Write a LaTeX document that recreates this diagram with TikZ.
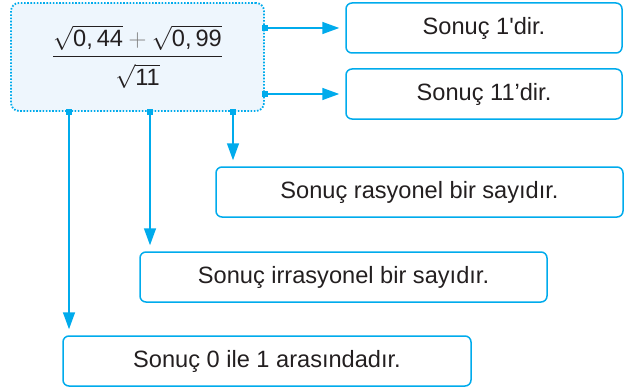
\documentclass[tikz,border=0pt]{standalone}
\usepackage{amsmath}
\usepackage{fontspec}
\setmainfont{Liberation Sans}
\usetikzlibrary{arrows.meta}
\definecolor{lineblue}{RGB}{0,171,236}
\definecolor{boxfill}{RGB}{238,246,253}
\definecolor{ink}{RGB}{35,31,32}
\tikzset{>={Triangle[length=8.5pt,width=6pt]}}
\tikzset{
	answer/.style={draw=lineblue,line width=0.75pt,rounded corners=3pt,text=ink,
		minimum height=25pt,inner sep=0pt,font=\fontsize{11.8}{14}\selectfont},
	tap/.style={fill=lineblue,inner sep=0pt,minimum size=2.6pt},
	link/.style={lineblue,line width=0.75pt,->,shorten >=3pt}
}

\begin{document}
\begin{tikzpicture}[x=0.5pt,y=-0.5pt]
		\useasboundingbox (0,0) rectangle (636,390);
		\node[draw=lineblue,fill=boxfill,line width=0.9pt,dash pattern=on 0.8pt off 0.8pt,
			rounded corners=4pt,minimum width=126.5pt,minimum height=54pt,text=ink,
			font=\fontsize{11.8}{14}\selectfont] (expr) at (137.5,57)
			{$\displaystyle\frac{\sqrt{\mbox{0,\,44}}\mathbin{\textcolor{gray}{+}}\sqrt{\mbox{0,\,99}}}{\sqrt{\mbox{11}}\rule{0pt}{13pt}}$};
		\node[answer,minimum width=138pt] (r1) at (484,28) {Sonuç 1\textquotesingle dir.};
		\node[answer,minimum width=138pt] (r2) at (484,94) {Sonuç 11’dir.};
		\node[answer,minimum width=203.5pt] (r3) at (419.5,192) {Sonuç rasyonel bir sayıdır.};
		\node[answer,minimum width=203.5pt] (r4) at (343.5,277) {Sonuç irrasyonel bir sayıdır.};
		\node[answer,minimum width=204pt] (r5) at (267,361) {Sonuç 0 ile 1 arasındadır.};
		\coordinate (e1) at (r1.west -| expr.east);
		\coordinate (e2) at (r2.west -| expr.east);
		\coordinate (s3) at ([xshift=47.75pt]expr.south);
		\coordinate (s4) at ([xshift=6.25pt]expr.south);
		\coordinate (s5) at ([xshift=-34.25pt]expr.south);
		\draw[link] (e1)--(r1.west);
		\draw[link] (e2)--(r2.west);
		\draw[link] (s3)--(s3 |- r3.north);
		\draw[link] (s4)--(s4 |- r4.north);
		\draw[link] (s5)--(s5 |- r5.north);
		\foreach \p in {e1,e2,s3,s4,s5}
			\node[tap] at (\p) {};
	\end{tikzpicture}
\end{document}
